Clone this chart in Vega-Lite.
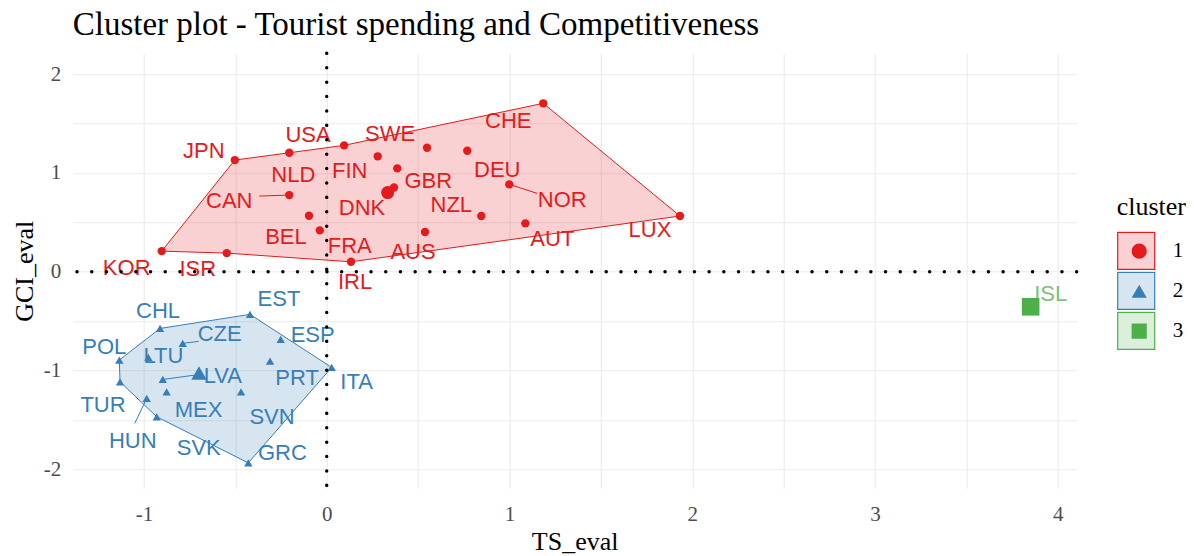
{
  "$schema": "https://vega.github.io/schema/vega-lite/v6.json",
  "width": 1004,
  "height": 435,
  "autosize": {"type": "none"},
  "padding": {"left": 72.7, "top": 53.3, "right": 117.3, "bottom": 67.7},
  "background": "white",
  "title": {
    "text": "Cluster plot - Tourist spending and Competitiveness",
    "anchor": "start",
    "frame": "group",
    "font": "Liberation Serif",
    "fontSize": 33,
    "fontWeight": "normal",
    "color": "black",
    "baseline": "alphabetic",
    "offset": 17,
    "dy": 33
  },
  "config": {
    "view": {"stroke": null},
    "font": "Liberation Serif",
    "axis": {
      "domain": false,
      "ticks": false,
      "tickSize": 0,
      "gridColor": "#EBEBEB",
      "gridWidth": 1.1,
      "labelFont": "Liberation Serif",
      "labelFontSize": 21,
      "labelColor": "#4D4D4D",
      "labelOverlap": false,
      "labelFlush": false,
      "titleFont": "Liberation Serif",
      "titleFontSize": 26,
      "titleFontWeight": "normal",
      "titleColor": "black"
    },
    "legend": {
      "titleFont": "Liberation Serif",
      "titleFontSize": 26,
      "titleFontWeight": "normal",
      "titleColor": "black",
      "labelFont": "Liberation Serif",
      "labelFontSize": 21,
      "labelColor": "black"
    },
    "text": {"font": "Liberation Sans", "fontSize": 22, "baseline": "middle", "align": "center"}
  },
  "datasets": {
    "points": [
      {"country": "KOR", "cluster": "1", "TS_eval": -0.903, "GCI_eval": 0.209},
      {"country": "ISR", "cluster": "1", "TS_eval": -0.547, "GCI_eval": 0.189},
      {"country": "JPN", "cluster": "1", "TS_eval": -0.503, "GCI_eval": 1.130},
      {"country": "NLD", "cluster": "1", "TS_eval": -0.205, "GCI_eval": 1.204},
      {"country": "USA", "cluster": "1", "TS_eval": 0.095, "GCI_eval": 1.279},
      {"country": "FIN", "cluster": "1", "TS_eval": 0.279, "GCI_eval": 1.168},
      {"country": "SWE", "cluster": "1", "TS_eval": 0.549, "GCI_eval": 1.255},
      {"country": "DEU", "cluster": "1", "TS_eval": 0.769, "GCI_eval": 1.224},
      {"country": "CHE", "cluster": "1", "TS_eval": 1.185, "GCI_eval": 1.704},
      {"country": "GBR", "cluster": "1", "TS_eval": 0.386, "GCI_eval": 1.046},
      {"country": "DNK", "cluster": "1", "TS_eval": 0.368, "GCI_eval": 0.852},
      {"country": "CAN", "cluster": "1", "TS_eval": -0.205, "GCI_eval": 0.776},
      {"country": "BEL", "cluster": "1", "TS_eval": -0.097, "GCI_eval": 0.567},
      {"country": "FRA", "cluster": "1", "TS_eval": -0.038, "GCI_eval": 0.419},
      {"country": "IRL", "cluster": "1", "TS_eval": 0.133, "GCI_eval": 0.101},
      {"country": "AUS", "cluster": "1", "TS_eval": 0.538, "GCI_eval": 0.402},
      {"country": "NZL", "cluster": "1", "TS_eval": 0.846, "GCI_eval": 0.564},
      {"country": "NOR", "cluster": "1", "TS_eval": 0.999, "GCI_eval": 0.884},
      {"country": "AUT", "cluster": "1", "TS_eval": 1.087, "GCI_eval": 0.490},
      {"country": "LUX", "cluster": "1", "TS_eval": 1.933, "GCI_eval": 0.564},
      {"country": "EST", "cluster": "2", "TS_eval": -0.420, "GCI_eval": -0.431},
      {"country": "CHL", "cluster": "2", "TS_eval": -0.912, "GCI_eval": -0.573},
      {"country": "CZE", "cluster": "2", "TS_eval": -0.788, "GCI_eval": -0.724},
      {"country": "LTU", "cluster": "2", "TS_eval": -0.976, "GCI_eval": -0.866},
      {"country": "POL", "cluster": "2", "TS_eval": -1.135, "GCI_eval": -0.893},
      {"country": "ESP", "cluster": "2", "TS_eval": -0.252, "GCI_eval": -0.684},
      {"country": "PRT", "cluster": "2", "TS_eval": -0.310, "GCI_eval": -0.904},
      {"country": "ITA", "cluster": "2", "TS_eval": 0.027, "GCI_eval": -0.967},
      {"country": "LVA", "cluster": "2", "TS_eval": -0.897, "GCI_eval": -1.089},
      {"country": "MEX", "cluster": "2", "TS_eval": -0.876, "GCI_eval": -1.214},
      {"country": "SVN", "cluster": "2", "TS_eval": -0.469, "GCI_eval": -1.214},
      {"country": "TUR", "cluster": "2", "TS_eval": -1.131, "GCI_eval": -1.113},
      {"country": "HUN", "cluster": "2", "TS_eval": -0.985, "GCI_eval": -1.281},
      {"country": "SVK", "cluster": "2", "TS_eval": -0.930, "GCI_eval": -1.467},
      {"country": "GRC", "cluster": "2", "TS_eval": -0.429, "GCI_eval": -1.933},
      {"country": "ISL", "cluster": "3", "TS_eval": 3.852, "GCI_eval": -0.354}
    ]
  },
  "layer": [
    {
      "data": {"name": "points"},
      "transform": [
        {"lookup": "country", "from": {"data": {"values": [
          {"country": "KOR", "hull": "1", "ks": [1, 9]},
          {"country": "JPN", "hull": "1", "ks": [2]},
          {"country": "NLD", "hull": "1", "ks": [3]},
          {"country": "USA", "hull": "1", "ks": [4]},
          {"country": "CHE", "hull": "1", "ks": [5]},
          {"country": "LUX", "hull": "1", "ks": [6]},
          {"country": "IRL", "hull": "1", "ks": [7]},
          {"country": "ISR", "hull": "1", "ks": [8]},
          {"country": "EST", "hull": "2", "ks": [1, 8]},
          {"country": "CHL", "hull": "2", "ks": [2]},
          {"country": "POL", "hull": "2", "ks": [3]},
          {"country": "TUR", "hull": "2", "ks": [4]},
          {"country": "SVK", "hull": "2", "ks": [5]},
          {"country": "GRC", "hull": "2", "ks": [6]},
          {"country": "ITA", "hull": "2", "ks": [7]},
          {"country": "ISL", "hull": "3", "ks": [1]}
        ]}, "key": "country", "fields": ["hull", "ks"]}},
        {"filter": "isValid(datum.hull)"},
        {"flatten": ["ks"], "as": ["k"]}
      ],
      "mark": {"type": "line", "strokeWidth": 1, "interpolate": "linear"},
      "encoding": {
        "x": {
          "field": "TS_eval",
          "type": "quantitative",
          "scale": {"domain": [-1.39, 4.104], "nice": false, "zero": false},
          "axis": {
            "title": "TS_eval",
            "values": [-1, -0.5, 0, 0.5, 1, 1.5, 2, 2.5, 3, 3.5, 4],
            "labelExpr": "datum.value % 1 == 0 ? (datum.value < 0 ? '-' + (-datum.value) : '' + datum.value) : ''",
            "labelPadding": 15,
            "titleBaseline": "top",
            "titleX": 502,
            "titleY": 40
          }
        },
        "y": {
          "field": "GCI_eval",
          "type": "quantitative",
          "scale": {"domain": [-2.19, 2.21], "nice": false, "zero": false},
          "axis": {
            "title": "GCI_eval",
            "values": [-2, -1.5, -1, -0.5, 0, 0.5, 1, 1.5, 2],
            "labelExpr": "datum.value % 1 == 0 ? (datum.value < 0 ? '-' + (-datum.value) : '' + datum.value) : ''",
            "labelPadding": 12,
            "titleBaseline": "top",
            "titleAngle": 270,
            "titleX": -61,
            "titleY": 217.5
          }
        },
        "order": {"field": "k", "type": "quantitative"},
        "stroke": {
          "field": "hull",
          "type": "nominal",
          "scale": {"range": ["#E41A1C", "#377EB8", "#4DAF4A"]},
          "legend": {
            "title": "cluster",
            "orient": "none",
            "legendX": 1044,
            "legendY": 141,
            "titlePadding": 11,
            "symbolType": "square",
            "symbolSize": 1369,
            "symbolStrokeWidth": 1.2,
            "clipHeight": 39,
            "rowPadding": 1,
            "labelOffset": 17
          }
        },
        "fill": {
          "field": "hull",
          "type": "nominal",
          "scale": {"range": ["rgba(228,26,28,0.2)", "rgba(55,126,184,0.2)", "rgba(77,175,74,0.2)"]},
          "legend": {
            "title": "cluster",
            "orient": "none",
            "legendX": 1044,
            "legendY": 141,
            "titlePadding": 11,
            "symbolType": "square",
            "symbolSize": 1369,
            "symbolStrokeWidth": 1.2,
            "clipHeight": 39,
            "rowPadding": 1,
            "labelOffset": 17
          }
        }
      }
    },
    {
      "data": {"name": "points"},
      "encoding": {
        "x": {"field": "TS_eval", "type": "quantitative"},
        "y": {"field": "GCI_eval", "type": "quantitative"},
        "text": {"field": "country"},
        "color": {"field": "cluster", "type": "nominal"}
      },
      "layer": [
        {"transform": [{"filter": {"field": "country", "equal": "KOR"}}], "mark": {"type": "text", "dx": -35, "dy": 17}},
        {"transform": [{"filter": {"field": "country", "equal": "ISR"}}], "mark": {"type": "text", "dx": -29, "dy": 16}},
        {"transform": [{"filter": {"field": "country", "equal": "JPN"}}], "mark": {"type": "text", "dx": -31, "dy": -9}},
        {"transform": [{"filter": {"field": "country", "equal": "NLD"}}], "mark": {"type": "text", "dx": 4, "dy": 22}},
        {"transform": [{"filter": {"field": "country", "equal": "USA"}}], "mark": {"type": "text", "dx": -36, "dy": -10}},
        {"transform": [{"filter": {"field": "country", "equal": "FIN"}}], "mark": {"type": "text", "dx": -28, "dy": 15}},
        {"transform": [{"filter": {"field": "country", "equal": "SWE"}}], "mark": {"type": "text", "dx": -37, "dy": -14}},
        {"transform": [{"filter": {"field": "country", "equal": "CHE"}}], "mark": {"type": "text", "dx": -35, "dy": 18}},
        {"transform": [{"filter": {"field": "country", "equal": "DEU"}}], "mark": {"type": "text", "dx": 30, "dy": 19}},
        {"transform": [{"filter": {"field": "country", "equal": "GBR"}}], "mark": {"type": "text", "dx": 31, "dy": 13}},
        {"transform": [{"filter": {"field": "country", "equal": "DNK"}}], "mark": {"type": "text", "dx": -32, "dy": 20}},
        {"transform": [{"filter": {"field": "country", "equal": "CAN"}}], "mark": {"type": "text", "dx": -60, "dy": 6}},
        {"transform": [{"filter": {"field": "country", "equal": "NOR"}}], "mark": {"type": "text", "dx": 53, "dy": 16}},
        {"transform": [{"filter": {"field": "country", "equal": "NZL"}}], "mark": {"type": "text", "dx": -30, "dy": -11}},
        {"transform": [{"filter": {"field": "country", "equal": "AUT"}}], "mark": {"type": "text", "dx": 27, "dy": 16}},
        {"transform": [{"filter": {"field": "country", "equal": "LUX"}}], "mark": {"type": "text", "dx": -30, "dy": 14}},
        {"transform": [{"filter": {"field": "country", "equal": "AUS"}}], "mark": {"type": "text", "dx": -12, "dy": 20}},
        {"transform": [{"filter": {"field": "country", "equal": "FRA"}}], "mark": {"type": "text", "dx": 30, "dy": 16}},
        {"transform": [{"filter": {"field": "country", "equal": "BEL"}}], "mark": {"type": "text", "dx": -23, "dy": 21}},
        {"transform": [{"filter": {"field": "country", "equal": "IRL"}}], "mark": {"type": "text", "dx": 4, "dy": 20}},
        {"transform": [{"filter": {"field": "country", "equal": "EST"}}], "mark": {"type": "text", "dx": 29, "dy": -15}},
        {"transform": [{"filter": {"field": "country", "equal": "CHL"}}], "mark": {"type": "text", "dx": -2, "dy": -17}},
        {"transform": [{"filter": {"field": "country", "equal": "CZE"}}], "mark": {"type": "text", "dx": 37, "dy": -9}},
        {"transform": [{"filter": {"field": "country", "equal": "POL"}}], "mark": {"type": "text", "dx": -15, "dy": -13}},
        {"transform": [{"filter": {"field": "country", "equal": "LTU"}}], "mark": {"type": "text", "dx": 15, "dy": -1}},
        {"transform": [{"filter": {"field": "country", "equal": "ESP"}}], "mark": {"type": "text", "dx": 32, "dy": -4}},
        {"transform": [{"filter": {"field": "country", "equal": "PRT"}}], "mark": {"type": "text", "dx": 27, "dy": 17}},
        {"transform": [{"filter": {"field": "country", "equal": "ITA"}}], "mark": {"type": "text", "dx": 25, "dy": 15}},
        {"transform": [{"filter": {"field": "country", "equal": "LVA"}}], "mark": {"type": "text", "dx": 60, "dy": -3}},
        {"transform": [{"filter": {"field": "country", "equal": "MEX"}}], "mark": {"type": "text", "dx": 32, "dy": 18}},
        {"transform": [{"filter": {"field": "country", "equal": "SVN"}}], "mark": {"type": "text", "dx": 31, "dy": 25}},
        {"transform": [{"filter": {"field": "country", "equal": "TUR"}}], "mark": {"type": "text", "dx": -17, "dy": 23}},
        {"transform": [{"filter": {"field": "country", "equal": "HUN"}}], "mark": {"type": "text", "dx": -14, "dy": 43}},
        {"transform": [{"filter": {"field": "country", "equal": "SVK"}}], "mark": {"type": "text", "dx": 42, "dy": 31}},
        {"transform": [{"filter": {"field": "country", "equal": "GRC"}}], "mark": {"type": "text", "dx": 34, "dy": -10}},
        {"transform": [{"filter": {"field": "country", "equal": "ISL"}}], "mark": {"type": "text", "dx": 20, "dy": -13, "opacity": 0.75}}
      ]
    },
    {
      "data": {"name": "points"},
      "encoding": {
        "x": {"field": "TS_eval", "type": "quantitative"},
        "y": {"field": "GCI_eval", "type": "quantitative"},
        "x2": {"field": "TS_eval"},
        "y2": {"field": "GCI_eval"},
        "color": {"field": "cluster", "type": "nominal"}
      },
      "layer": [
        {"transform": [{"filter": {"field": "country", "equal": "CAN"}}], "mark": {"type": "rule", "strokeWidth": 1, "x2Offset": -30, "y2Offset": 1}},
        {"transform": [{"filter": {"field": "country", "equal": "NOR"}}], "mark": {"type": "rule", "strokeWidth": 1, "x2Offset": 28, "y2Offset": 9}},
        {"transform": [{"filter": {"field": "country", "equal": "LVA"}}], "mark": {"type": "rule", "strokeWidth": 1, "x2Offset": 37, "y2Offset": -5}},
        {"transform": [{"filter": {"field": "country", "equal": "HUN"}}], "mark": {"type": "rule", "strokeWidth": 1, "x2Offset": -12, "y2Offset": 25}},
        {"transform": [{"filter": {"field": "country", "equal": "CZE"}}], "mark": {"type": "rule", "strokeWidth": 1, "x2Offset": 16, "y2Offset": -2}}
      ]
    },
    {
      "data": {"name": "points"},
      "mark": {"type": "point", "filled": true, "opacity": 1, "size": 70},
      "encoding": {
        "x": {"field": "TS_eval", "type": "quantitative"},
        "y": {"field": "GCI_eval", "type": "quantitative"},
        "color": {
          "field": "cluster",
          "type": "nominal",
          "scale": {"domain": ["1", "2", "3"], "range": ["#E41A1C", "#377EB8", "#4DAF4A"]},
          "legend": {
            "title": null,
            "orient": "none",
            "legendX": 1044,
            "legendY": 178.4,
            "symbolSize": 230,
            "symbolOffset": 12,
            "symbolOpacity": 1,
            "clipHeight": 39,
            "rowPadding": 1,
            "labelOpacity": 0,
            "encode": {"symbols": {"update": {"opacity": {"value": 1}, "fillOpacity": {"value": 1}, "strokeWidth": {"value": 0}}}}
          }
        },
        "shape": {
          "field": "cluster",
          "type": "nominal",
          "scale": {"domain": ["1", "2", "3"], "range": ["circle", "triangle-up", "square"]},
          "legend": {
            "title": null,
            "orient": "none",
            "legendX": 1044,
            "legendY": 178.4,
            "symbolSize": 230,
            "symbolOffset": 12,
            "symbolOpacity": 1,
            "clipHeight": 39,
            "rowPadding": 1,
            "labelOpacity": 0,
            "encode": {"symbols": {"update": {"opacity": {"value": 1}, "fillOpacity": {"value": 1}, "strokeWidth": {"value": 0}}}}
          }
        }
      }
    },
    {
      "data": {"name": "points"},
      "transform": [
        {"aggregate": [
          {"op": "mean", "field": "TS_eval", "as": "TS_eval"},
          {"op": "mean", "field": "GCI_eval", "as": "GCI_eval"}
        ], "groupby": ["cluster"]}
      ],
      "encoding": {
        "x": {"field": "TS_eval", "type": "quantitative"},
        "y": {"field": "GCI_eval", "type": "quantitative"},
        "color": {"field": "cluster", "type": "nominal"},
        "shape": {"field": "cluster", "type": "nominal"}
      },
      "layer": [
        {"transform": [{"filter": {"field": "cluster", "equal": "1"}}], "mark": {"type": "point", "filled": true, "opacity": 1, "size": 170}},
        {"transform": [{"filter": {"field": "cluster", "equal": "2"}}], "mark": {"type": "point", "filled": true, "opacity": 1, "size": 240}},
        {"transform": [{"filter": {"field": "cluster", "equal": "3"}}], "mark": {"type": "point", "filled": true, "opacity": 1, "size": 310}}
      ]
    },
    {
      "data": {"values": [{}]},
      "mark": {"type": "rule", "color": "black", "strokeWidth": 3.4, "strokeDash": [0.1, 14.3], "strokeCap": "round"},
      "encoding": {"x": {"datum": 0, "type": "quantitative"}}
    },
    {
      "data": {"values": [{}]},
      "mark": {"type": "rule", "color": "black", "strokeWidth": 3.4, "strokeDash": [0.1, 14.6], "strokeCap": "round"},
      "encoding": {"y": {"datum": 0, "type": "quantitative"}}
    }
  ]
}
